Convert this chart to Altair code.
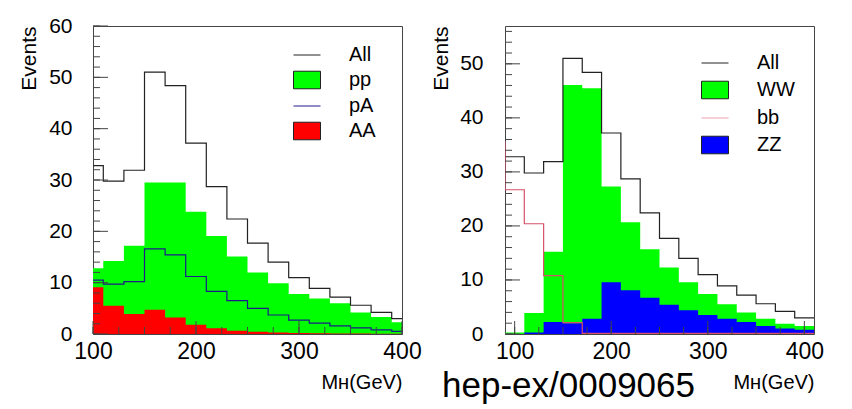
import altair as alt
import pandas as pd

# ---------------- data ----------------
edges = [90, 110, 130, 150, 170, 190, 210, 230, 250, 270, 290, 310, 330, 350, 370, 390, 410]
all_events = [32.8, 29.8, 31.9, 51.0, 48.4, 37.2, 28.7, 22.4, 17.7, 14.0, 11.0, 8.9, 7.2, 5.6, 4.2, 3.0]

# left panel
pp = [12.8, 14.2, 17.2, 29.5, 29.5, 23.8, 19.1, 15.1, 12.0, 9.9, 7.8, 6.9, 6.0, 4.2, 3.3, 2.3]
pA = [10.5, 9.7, 10.2, 16.6, 15.4, 11.2, 8.3, 6.5, 5.0, 3.7, 2.7, 2.1, 1.6, 1.2, 0.8, 0.5]
AA = [9.1, 5.5, 3.9, 4.7, 3.2, 1.8, 1.1, 0.65, 0.45, 0.3, 0.2, 0.15, 0.1, 0.1, 0.05, 0.05]

# right panel
WW = [0.3, 3.9, 15.2, 46.1, 45.5, 27.3, 20.7, 15.7, 12.3, 9.6, 7.4, 5.5, 4.0, 2.8, 1.9, 1.5]
ZZ = [0.0, 0.3, 2.2, 2.0, 2.8, 9.6, 8.1, 6.7, 5.4, 4.4, 3.5, 2.8, 2.2, 1.5, 1.0, 0.8]
bb_edges = [70, 90, 110, 130, 150, 170, 190, 210, 230, 250, 270, 290, 310, 330, 350, 370, 390, 410]
bb = [35.5, 26.7, 20.4, 10.8, 2.1, 0.1, 0.1, 0.1, 0.1, 0.1, 0.1, 0.1, 0.1, 0.1, 0.1, 0.1, 0.1]

left_series = ["All", "pp", "pA", "AA"]
right_series = ["All", "WW", "bb", "ZZ"]

x_labels = [100, 200, 300, 400]
x_minor = [100, 125, 150, 175, 200, 225, 250, 275, 300, 325, 350, 375, 400]
left_y_major = [0, 10, 20, 30, 40, 50, 60]
left_y_minor = [0, 2, 4, 6, 8, 10, 12, 14, 16, 18, 20, 22, 24, 26, 28, 30, 32, 34, 36, 38,
                40, 42, 44, 46, 48, 50, 52, 54, 56, 58, 60]
right_y_major = [0, 10, 20, 30, 40, 50]
right_y_minor = [0, 2, 4, 6, 8, 10, 12, 14, 16, 18, 20, 22, 24, 26, 28, 30, 32, 34, 36, 38,
                 40, 42, 44, 46, 48, 50, 52, 54, 56]

note = "hep-ex/0009065"
x_title = "Mʜ(GeV)"
y_title = "Events"

# ---------------- styling ----------------
FONT = "Liberation Sans"
W, H = 309, 308
GREEN, RED, BLUE = "#00ff00", "#ff0000", "#0000ff"
BLACK = "#222222"
NAVY = "#1c1c8a"
PINK = "#d9506a"
FRAME = "#444444"


def steps(edg, vals):
    return pd.DataFrame({"edge": edg, "value": list(vals) + [vals[-1]]})


def panel(xdom, ydom, ymajor, yminor, fills, lines, series, colors_fill, colors_stroke,
          shapes, legx, legy, rowpad, ylabpad, ytitlepad, note_text=None):
    xs = alt.Scale(domain=xdom, nice=False, zero=False)
    ys = alt.Scale(domain=ydom, nice=False, zero=True)
    xaxis = alt.Axis(values=x_labels, title=x_title, titleAnchor="end", labelFontSize=23,
                     labelPadding=6, titleFontSize=20, titlePadding=9, labelFlush=False,
                     labelOverlap=False)
    yaxis = alt.Axis(values=ymajor, title=y_title, titleAnchor="end", labelFontSize=21,
                     labelPadding=ylabpad, titleFontSize=21, titlePadding=ytitlepad,
                     labelOverlap=False)
    X = lambda f: alt.X(f, type="quantitative", scale=xs, axis=xaxis)
    Y = lambda f: alt.Y(f, type="quantitative", scale=ys, axis=yaxis)

    layers = []
    for vals, col in fills:
        layers.append(alt.Chart(steps(edges, vals)).mark_area(
            interpolate="step-after", color=col, clip=True).encode(x=X("edge"), y=Y("value")))
    for edg, vals, col in lines:
        layers.append(alt.Chart(steps(edg, vals)).mark_line(
            interpolate="step-after", color=col, strokeWidth=1.2, clip=True).encode(
            x=X("edge"), y=Y("value")))
    # inward ticks
    layers.append(alt.Chart(pd.DataFrame({"t": ymajor})).mark_rule(color=FRAME, strokeWidth=1).encode(
        y=Y("t"), x=alt.value(0), x2=alt.value(15)))
    layers.append(alt.Chart(pd.DataFrame({"t": yminor})).mark_rule(color=FRAME, strokeWidth=1).encode(
        y=Y("t"), x=alt.value(0), x2=alt.value(7)))
    layers.append(alt.Chart(pd.DataFrame({"t": x_labels})).mark_rule(color=FRAME, strokeWidth=1).encode(
        x=X("t"), y=alt.value(H), y2=alt.value(H - 13)))
    layers.append(alt.Chart(pd.DataFrame({"t": x_minor})).mark_rule(color=FRAME, strokeWidth=1).encode(
        x=X("t"), y=alt.value(H), y2=alt.value(H - 7)))

    leg = alt.Legend(title=None, orient="none", legendX=legx, legendY=legy, symbolSize=729,
                     symbolStrokeWidth=1, labelFont=FONT, labelFontSize=20, labelOffset=28,
                     rowPadding=rowpad, padding=0, labelColor="black", symbolOpacity=1)
    layers.append(alt.Chart(pd.DataFrame({"s": series})).transform_filter("false").mark_point(
        filled=True, opacity=1).encode(
        shape=alt.Shape("s:N", scale=alt.Scale(domain=series, range=shapes), legend=leg),
        fill=alt.Fill("s:N", scale=alt.Scale(domain=series, range=colors_fill), legend=leg),
        stroke=alt.Stroke("s:N", scale=alt.Scale(domain=series, range=colors_stroke), legend=leg),
    ))
    if note_text:
        layers.append(alt.Chart(pd.DataFrame({"t": [note_text]})).mark_text(
            align="left", baseline="alphabetic", fontSize=35, font=FONT, color="black").encode(
            text="t:N", x=alt.value(-63), y=alt.value(371)))
    return alt.layer(*layers).properties(width=W, height=H)


BOX = "M-1,-0.65L1,-0.65L1,0.65L-1,0.65Z"

left = panel([100, 400], [0, 60], left_y_major, left_y_minor,
             fills=[(pp, GREEN), (AA, RED)],
             lines=[(edges, all_events, BLACK), (edges, pA, NAVY)],
             series=left_series,
             colors_fill=["transparent", GREEN, "transparent", RED],
             colors_stroke=[BLACK, BLACK, NAVY, BLACK],
             shapes=["stroke", BOX, "stroke", BOX], legx=200, legy=15, rowpad=1,
             ylabpad=21, ytitlepad=9)

right = panel([90, 410], [0, 57], right_y_major, right_y_minor,
              fills=[(WW, GREEN), (ZZ, BLUE)],
              lines=[(edges, all_events, BLACK), (bb_edges, bb, PINK)],
              series=right_series,
              colors_fill=["transparent", GREEN, "transparent", BLUE],
              colors_stroke=[BLACK, BLACK, "#f0a0b0", BLACK],
              shapes=["stroke", BOX, "stroke", BOX], legx=196, legy=23, rowpad=3,
              ylabpad=22, ytitlepad=8, note_text=note)

chart = alt.hconcat(left, right, spacing=8).resolve_scale(
    x="independent", y="independent", shape="independent", fill="independent",
    stroke="independent").resolve_legend(
    shape="independent", fill="independent", stroke="independent").properties(
    padding={"left": 10, "top": 6, "right": 0, "bottom": 0},
    background="white",
).configure_axis(
    labelFont=FONT, titleFont=FONT, grid=False, ticks=False, domain=False,
    labelColor="black", titleColor="black", titleFontWeight="normal",
).configure_view(stroke=FRAME, strokeWidth=1)

chart.save("out.html", embed_options={"renderer": "svg", "actions": False})
